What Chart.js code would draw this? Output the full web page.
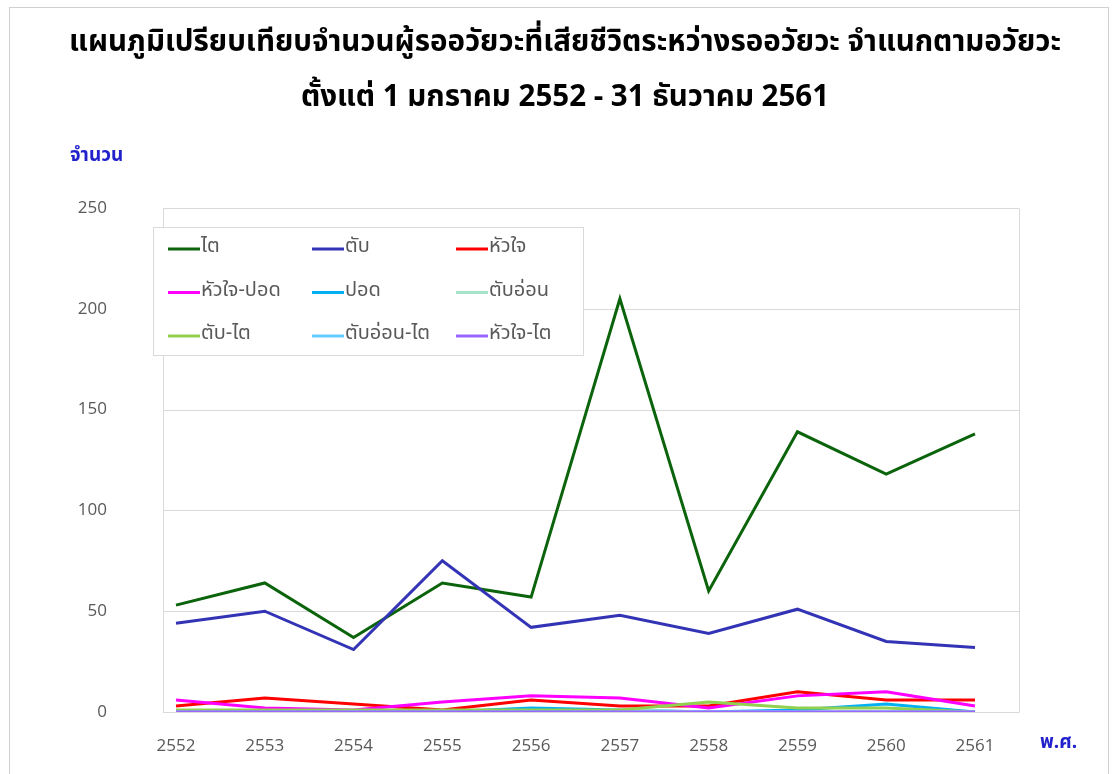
<!DOCTYPE html>
<html>
<head>
<meta charset="utf-8">
<script src="https://cdn.jsdelivr.net/npm/chart.js@4.4.1/dist/chart.umd.min.js"></script>
<style>
  html, body { margin: 0; padding: 0; background: #fff; overflow: hidden; }
  #wrap { width: 1118px; height: 774px; position: relative; }
</style>
</head>
<body>
<div id="wrap"><canvas id="miGrafico"></canvas></div>
<script>
const years = ['2552', '2553', '2554', '2555', '2556', '2557', '2558', '2559', '2560', '2561'];

const tai = [53, 64, 37, 64, 57, 205, 60, 139, 118, 138];
const tub = [44, 50, 31, 75, 42, 48, 39, 51, 35, 32];
const huajai = [3, 7, 4, 1, 6, 3, 3, 10, 6, 6];
const huajaiPod = [6, 2, 1, 5, 8, 7, 2, 8, 10, 3];
const pod = [0, 0, 0, 0, 2, 1, 0, 1, 4, 0];
const tubOn = [0, 0, 0, 0, 0, 1, 0, 0, 0, 0];
const tubTai = [1, 1, 1, 1, 1, 1, 5, 2, 2, 0];
const tubOnTai = [0, 0, 0, 0, 0, 0, 0, 0, 0, 0];
const huajaiTai = [0, 0, 0, 0, 0, 0, 0, 0, 0, 0];

const yTicks = [0, 50, 100, 150, 200, 250];

const thaiFont = "Tahoma, 'Noto Sans Thai', 'Leelawadee UI', 'DejaVu Sans', sans-serif";
const tickFont = "'Open Sans', 'Noto Sans', sans-serif";

const series = [
    { label: 'ไต', data: tai, color: '#0B640B' },
    { label: 'ตับ', data: tub, color: '#3333B5' },
    { label: 'หัวใจ', data: huajai, color: '#FF0000' },
    { label: 'หัวใจ-ปอด', data: huajaiPod, color: '#FF00FF' },
    { label: 'ปอด', data: pod, color: '#00B0F0' },
    { label: 'ตับอ่อน', data: tubOn, color: '#A8E2C8' },
    { label: 'ตับ-ไต', data: tubTai, color: '#92D050' },
    { label: 'ตับอ่อน-ไต', data: tubOnTai, color: '#66CCFF' },
    { label: 'หัวใจ-ไต', data: huajaiTai, color: '#9966FF' }
];

// plot frame is wider than the span of the points (Excel style)
const frameLeft = 163, frameRight = 1019;

const extras = {
    id: 'extras',
    beforeDatasetsDraw(chart) {
        const ctx = chart.ctx;
        const y = chart.scales.y;
        ctx.save();
        ctx.strokeStyle = '#d9d9d9';
        ctx.lineWidth = 1;
        yTicks.forEach(v => {
            const py = Math.round(y.getPixelForValue(v)) + 0.5;
            ctx.beginPath();
            ctx.moveTo(frameLeft, py);
            ctx.lineTo(frameRight, py);
            ctx.stroke();
        });
        const top = Math.round(y.getPixelForValue(250)) + 0.5;
        const bottom = Math.round(y.getPixelForValue(0)) + 0.5;
        ctx.beginPath();
        ctx.moveTo(frameLeft + 0.5, top);
        ctx.lineTo(frameLeft + 0.5, bottom);
        ctx.moveTo(frameRight + 0.5, top);
        ctx.lineTo(frameRight + 0.5, bottom);
        ctx.stroke();
        ctx.restore();
    },
    afterDraw(chart) {
        const ctx = chart.ctx;
        ctx.save();

        // outer frame
        ctx.strokeStyle = '#d0d0d0';
        ctx.lineWidth = 1;
        ctx.strokeRect(9.5, 7.5, 1099, 800);

        // title
        ctx.fillStyle = '#000';
        ctx.textAlign = 'center';
        ctx.textBaseline = 'middle';
        ctx.font = 'bold 29.5px ' + thaiFont;
        ctx.fillText('แผนภูมิเปรียบเทียบจำนวนผู้รออวัยวะที่เสียชีวิตระหว่างรออวัยวะ จำแนกตามอวัยวะ', 565, 45);
        ctx.fillText('ตั้งแต่ 1 มกราคม 2552 - 31 ธันวาคม 2561', 565, 100);

        // axis captions
        ctx.fillStyle = '#2222CC';
        ctx.font = 'bold 19px ' + thaiFont;
        ctx.textAlign = 'left';
        ctx.fillText('จำนวน', 70, 157);
        ctx.fillText('พ.ศ.', 1040, 744);

        // legend box
        const lx = 153, ly = 227, lw = 430, lh = 128;
        ctx.fillStyle = '#fff';
        ctx.fillRect(lx, ly, lw, lh);
        ctx.strokeStyle = '#d9d9d9';
        ctx.strokeRect(lx + 0.5, ly + 0.5, lw, lh);

        ctx.font = '20px ' + thaiFont;
        ctx.textBaseline = 'middle';
        chart.data.datasets.forEach((ds, i) => {
            const col = i % 3;
            const row = Math.floor(i / 3);
            const x = 168 + col * 144;
            const y = 249 + row * 43.5;
            ctx.strokeStyle = ds.borderColor;
            ctx.lineWidth = 3;
            ctx.beginPath();
            ctx.moveTo(x, y);
            ctx.lineTo(x + 32, y);
            ctx.stroke();
            ctx.fillStyle = '#595959';
            ctx.fillText(ds.label, x + 33, y - 1);
        });

        ctx.restore();
    }
};

const ctx = document.getElementById('miGrafico').getContext('2d');

new Chart(ctx, {
    type: 'line',
    data: {
        labels: years,
        datasets: series.map((s, i) => ({
            label: s.label,
            data: s.data,
            borderColor: s.color,
            backgroundColor: s.color,
            borderWidth: 3,
            pointRadius: 0,
            tension: 0,
            order: series.length - 1 - i
        }))
    },
    options: {
        responsive: true,
        maintainAspectRatio: false,
        animation: false,
        layout: { padding: { top: 208, right: 143, bottom: 0, left: 0 } },
        plugins: {
            legend: { display: false },
            title: { display: false },
            tooltip: { enabled: false }
        },
        scales: {
            x: {
                offset: false,
                grid: { display: false, drawTicks: false },
                border: { display: false },
                ticks: {
                    padding: 24,
                    color: '#595959',
                    font: { family: tickFont, size: 17 }
                },
                afterFit: (scale) => { scale.height = 62; }
            },
            y: {
                min: 0,
                max: 250,
                grid: { display: false, drawTicks: false },
                border: { display: false },
                afterBuildTicks: (scale) => { scale.ticks = yTicks.map(v => ({ value: v })); },
                ticks: {
                    padding: 69,
                    color: '#595959',
                    font: { family: tickFont, size: 17 }
                },
                afterFit: (scale) => {
                    scale.width = 176;
                    scale.paddingTop = 0;
                    scale.paddingBottom = 0;
                }
            }
        }
    },
    plugins: [extras]
});
</script>
</body>
</html>
